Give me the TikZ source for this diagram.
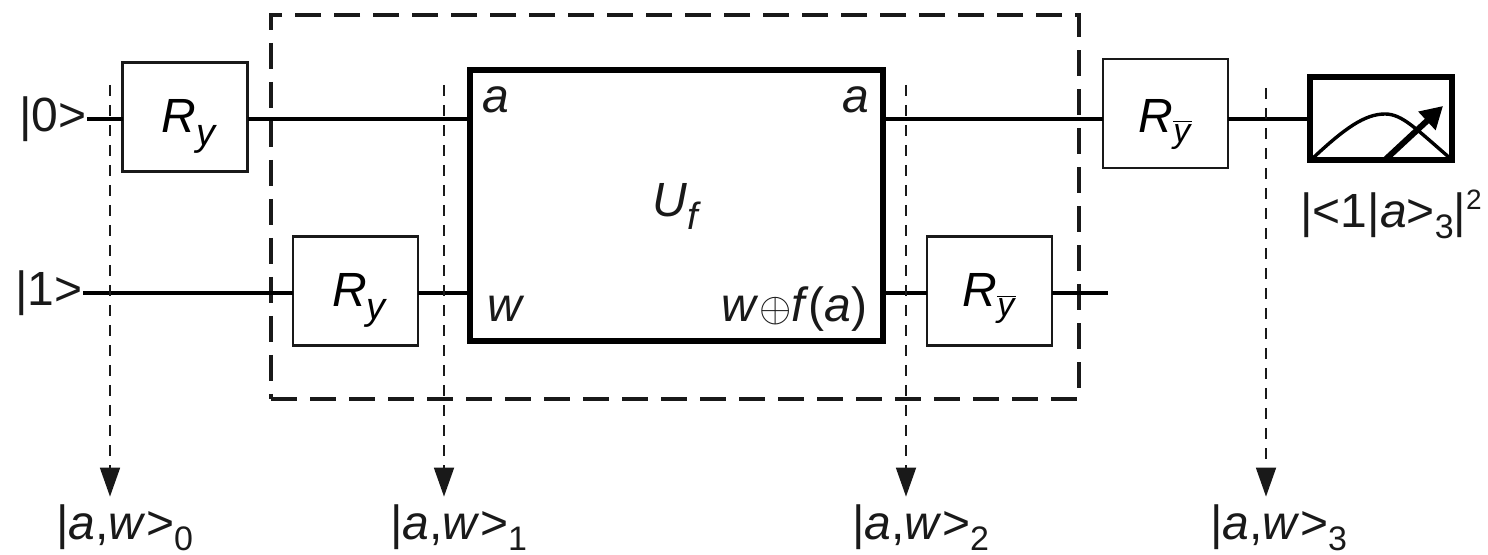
\documentclass[tikz,border=0pt]{standalone}
\usepackage{fontspec}
\setmainfont{Liberation Sans}
\usepackage{xcolor}
\usetikzlibrary{arrows.meta,positioning}
\definecolor{inkgray}{gray}{0.1}
\newcommand{\lowi}[1]{\raisebox{-6.5pt}{\fontsize{19}{20}\selectfont\textit{#1}}}
\newcommand{\lowd}[1]{\raisebox{-5.5pt}{\fontsize{17}{18}\selectfont #1}}
\newcommand{\barred}{\raisebox{-5pt}{\fontsize{17}{18}\selectfont$\overline{\hbox{\textit{y}}}$}}
\tikzset{
    wire/.style={line width=1.6pt,black},
    gatebox/.style={draw=inkgray,line width=1.15pt,minimum width=62.5pt,minimum height=54.5pt,inner sep=0pt,outer sep=0pt,font=\fontsize{24}{28}\selectfont,text height=18pt,text depth=2pt},
    probe/.style={line width=0.9pt,inkgray,dash pattern=on 5.5pt off 4.5pt,-{Triangle[length=14.5pt,width=10pt]}},
    txt/.style={font=\fontsize{24}{28}\selectfont,inner sep=0pt,text=inkgray},
    ketlab/.style={txt,anchor=base west,text height=21pt}
}
\begin{document}
\begin{tikzpicture}[x=0.5pt,y=-0.5pt]
    \useasboundingbox (0,0) rectangle (1488,555);

    \node[draw=inkgray,line width=2pt,dash pattern=on 13pt off 6.5pt,minimum width=404pt,minimum height=192pt,inner sep=0pt] (oracle) at (675,207) {};

    \node[txt,anchor=east] (in0) at (87,119) {|0>};
    \node[txt,anchor=east] (in1) at (83,293) {|1>};

    \node[gatebox] (ry0) at (185,117) {\hspace*{4.5pt}\textit{R}\lowi{y}};
    \node[gatebox] (ry1) at (355.5,291) {\hspace*{4.5pt}\textit{R}\lowi{y}};
    \node[gatebox,text height=20pt,text depth=1pt] (rb0) at (1165.5,113.5) {\textit{R}\barred};
    \node[gatebox] (rb1) at (989.5,291) {\textit{R}\barred};
    \node[draw=black,line width=2.6pt,minimum width=206.5pt,minimum height=135.5pt,outer sep=0pt,txt,text height=13.5pt,text depth=2pt] (uf) at (676.5,205.5) {\textit{U}\lowi{f}};
    \node[draw=black,line width=3pt,minimum width=71pt,minimum height=41.5pt,inner sep=0pt,outer sep=0pt] (meter) at (1381,119) {};

    \node[txt] (ua) at (496,100) {\textit{a}};
    \node[txt] (ub) at (855.5,100) {\textit{a}};
    \node[txt,anchor=base] (uw) at (506,322) {\textit{w}};
    \node[txt,anchor=base east] (uo) at (868,322) {\textit{w}{\fontsize{20}{20}\selectfont$\oplus$}\textit{f}(\textit{a})};

    % upper line
    \draw[wire] (in0.east) -- (in0.east -| ry0.west);
    \draw[wire] (ry0.east |- in0.east) -- (in0.east -| uf.west);
    \draw[wire] (uf.east |- in0.east) -- (in0.east -| rb0.west);
    \draw[wire] (rb0.east |- in0.east) -- (meter.west);

    % lower line
    \coordinate (out1) at (1108,293);
    \draw[wire] (in1.east) -- (in1.east -| ry1.west);
    \draw[wire] (ry1.east |- in1.east) -- (in1.east -| uf.west);
    \draw[wire] (uf.east |- in1.east) -- (in1.east -| rb1.west);
    \draw[wire] (rb1.east |- in1.east) -- (out1);

    % meter
    \draw[line width=1.7pt,black] (1313,158) .. controls (1345,128) and (1365,114) .. (1385,114) .. controls (1402,114) and (1415,128) .. (1451,159);
    \draw[line width=3pt,black,-{Triangle[length=11pt,width=12pt]}] (1386,159) -- (1443,106);
    \node[txt,anchor=base west] (prob) at (1300,228) {|<1|\textit{a}>\lowd{3}|\raisebox{9pt}{\fontsize{14}{15}\selectfont 2}};

    \foreach \x/\n/\ytop/\xlab in {110/0/85/56,444/1/85/390,906/2/85/852,1266/3/88/1210} {
        \coordinate (top\n) at (\x,\ytop);
        \node[ketlab] (ket\n) at (\xlab,539) {|\textit{a},\textit{w}>\lowd{\n}};
        \draw[probe] (top\n) -- (top\n |- ket\n.north);
    }
\end{tikzpicture}
\end{document}
